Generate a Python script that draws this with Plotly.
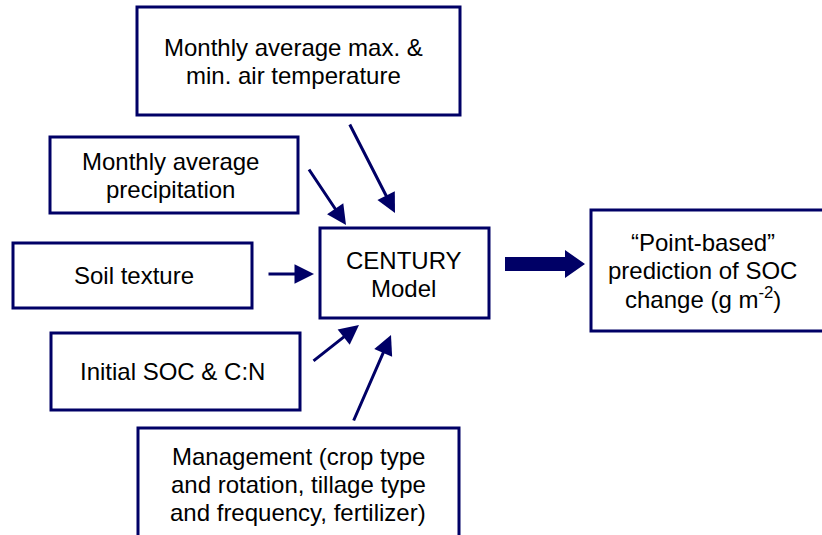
import plotly.graph_objects as go

# ---- diagram content ----
box_names = ["temp", "precip", "soil", "soc", "model", "output", "mgmt"]
box_lines = [
    ["Monthly average max. &amp;", "min. air temperature"],
    ["Monthly average", "precipitation"],
    ["Soil texture"],
    ["Initial SOC &amp; C:N"],
    ["CENTURY", "Model"],
    ["\u201cPoint-based\u201d", "prediction of SOC", "change (g m<sup>-2</sup>)"],
    ["Management (crop type", "and rotation, tillage type", "and frequency, fertilizer)"],
]

# ---- geometry (pixels, origin top-left) ----
box_x0 = [137, 50, 13, 51, 320, 591, 138]
box_x1 = [460, 298, 252, 300, 489, 830, 459]
box_y0 = [7, 137, 243, 333, 228, 210, 428]
box_y1 = [115, 213, 308, 410, 318, 331, 545]
text_cx = [293, 170, 133.5, 172.5, 403.5, 702.5, 298]
text_cy = [61, 175, 275, 371, 274, 270, 484]

# arrows: (tail x, tail y, tip x, tip y)
arrow_tail_x = [349, 308, 267, 312, 353]
arrow_tail_y = [123, 168, 274, 362, 422]
arrow_tip_x = [395, 346, 314, 359, 391]
arrow_tip_y = [213, 225, 274, 325, 335]

NAVY = "#000066"
FONT = dict(family="Arial, Liberation Sans, sans-serif", size=24, color="#000000")
LINE_STEP = 28

fig = go.Figure()
shapes = []
annotations = []

for i, name in enumerate(box_names):
    shapes.append(dict(type="rect", xref="x", yref="y",
                       x0=box_x0[i], x1=box_x1[i], y0=box_y0[i], y1=box_y1[i],
                       line=dict(color=NAVY, width=3), fillcolor="white", layer="below"))
    n = len(box_lines[i])
    for j, txt in enumerate(box_lines[i]):
        annotations.append(dict(x=text_cx[i], y=text_cy[i] + (j - (n - 1) / 2) * LINE_STEP,
                                xref="x", yref="y", text=txt, showarrow=False,
                                font=FONT, xanchor="center", yanchor="middle"))

for k in range(len(arrow_tail_x)):
    annotations.append(dict(x=arrow_tip_x[k], y=arrow_tip_y[k],
                            ax=arrow_tail_x[k], ay=arrow_tail_y[k],
                            xref="x", yref="y", axref="x", ayref="y",
                            text="", showarrow=True, arrowhead=2, arrowsize=1.3,
                            arrowwidth=3, arrowcolor=NAVY, standoff=0, startstandoff=0))

# big block arrow from model to output
shapes.append(dict(type="path", xref="x", yref="y",
                   path="M 505 257 L 565 257 L 565 250 L 585 264 L 565 278 L 565 271 L 505 271 Z",
                   fillcolor=NAVY, line=dict(color=NAVY, width=0)))

fig.update_layout(
    width=822, height=535,
    margin=dict(l=0, r=0, t=0, b=0),
    paper_bgcolor="white", plot_bgcolor="white",
    xaxis=dict(range=[0, 822], visible=False, fixedrange=True),
    yaxis=dict(range=[535, 0], visible=False, fixedrange=True),
    shapes=shapes, annotations=annotations, showlegend=False,
)

fig.write_html("out.html", config={"displayModeBar": False},
               post_script="document.body.style.margin='0';document.body.style.overflow='hidden';")
